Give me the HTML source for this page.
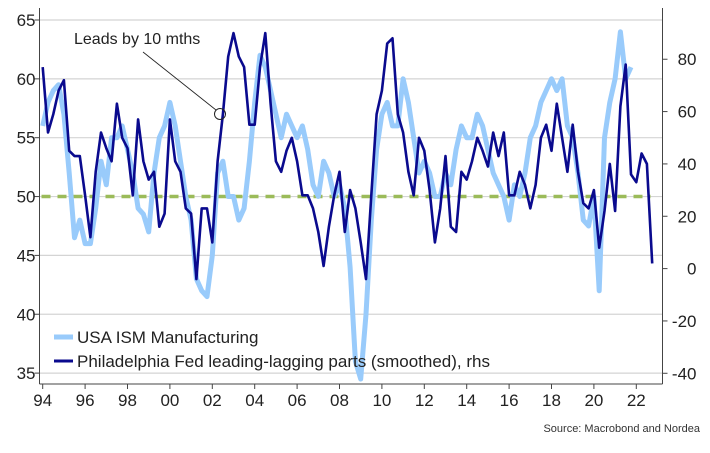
<!DOCTYPE html>
<html><head><meta charset="utf-8">
<style>
html,body{margin:0;padding:0;background:#fff;}
body{width:710px;height:448px;overflow:hidden;font-family:"Liberation Sans",sans-serif;}
</style></head>
<body>
<svg id="chart" width="710" height="448" xmlns="http://www.w3.org/2000/svg" font-family="Liberation Sans, sans-serif">
<g id="grid"></g>
<g id="series"></g>
<g id="axes"></g>
<g>
<text x="74" y="44" font-size="16" fill="#222">Leads by 10 mths</text>
<line x1="143" y1="52" x2="216" y2="110" stroke="#222" stroke-width="0.8"/>
<circle cx="220" cy="114" r="5.5" fill="none" stroke="#222" stroke-width="1"/>
</g>
<g>
<line x1="54" y1="337" x2="73" y2="337" stroke="#99cbfb" stroke-width="5"/>
<text x="77" y="343" font-size="17" fill="#222">USA ISM Manufacturing</text>
<line x1="54" y1="361" x2="73" y2="361" stroke="#0a0a8e" stroke-width="3"/>
<text x="77" y="367" font-size="17" fill="#222">Philadelphia Fed leading-lagging parts (smoothed), rhs</text>
</g>
<text x="700" y="432" font-size="11" fill="#333" text-anchor="end">Source: Macrobond and Nordea</text>
</svg>
<script>
const startYear = 1994;
const stepYears = 0.25;
const ismValues = [56,58,59,59.5, 57,52,46.5,48, 46,46,49,53, 51,55,55,56, 54,52,49,48.5, 47,52,55,56, 58,56,53,50, 48,43,42,41.5, 45,52,53,50, 50,48,49,53, 58,62,61,59, 57,55,57,56, 55,56,54,51, 50,53,52,50, 51,49,44,36, 34.5,40,48,54, 57,58,56,56, 60,58,55,52, 53,52,50,50, 52,51,54,56, 55,55,57,56, 54,52,51,50, 48,51,50,52, 55,56,58,59, 60,59,60,56, 55,52,48,47.5, 50,42,55,58, 60,64,60,61];
const phillyValues = [77,52,59,68, 72,45,43,43, 28,12,37,52, 46,41,63,50, 46,28,57,41, 34,37,16,21, 57,41,37,23, 21,-4,23,23, 10,41,59,81, 90,81,77,55, 55,77,90,63, 41,37,45,50, 41,28,28,23, 14,1,16,28, 37,14,30,23, 10,-4,28,59, 68,86,88,59, 52,37,28,50, 45,30,10,23, 43,16,14,37, 34,41,50,45, 39,52,43,52, 28,28,37,32, 23,32,50,55, 45,63,50,37, 55,37,25,23, 30,8,22,40, 22,62,78,36, 33,44,40,2];
const leftTicks = [35,40,45,50,55,60,65];
const rightTicks = [-40,-20,0,20,40,60,80];
const xTickYears = [1994,1996,1998,2000,2002,2004,2006,2008,2010,2012,2014,2016,2018,2020,2022];
const xTickLabels = ["94","96","98","00","02","04","06","08","10","12","14","16","18","20","22"];
const refLevel = 50;

const NS="http://www.w3.org/2000/svg";
const xS = yr => 42.7 + (yr-1994)*21.2;
const yL = v => 20 + (65-v)*11.77;
const yR = v => 268.6 - v*2.617;
function mk(tag, attrs, parent){const e=document.createElementNS(NS,tag);for(const k in attrs)e.setAttribute(k,attrs[k]);parent.appendChild(e);return e;}
const grid=document.getElementById('grid'), ser=document.getElementById('series'), ax=document.getElementById('axes');
const L=39.5, R=662.5, T=8, B=384;
leftTicks.forEach(v=>{
  const g=mk('line',{x1:L,x2:R,y1:yL(v),y2:yL(v),stroke:'#d4d4d4','stroke-width':1.2},grid);
  
  
  const tk=mk('line',{x1:L-5,x2:L,y1:yL(v),y2:yL(v),stroke:'#444'},ax);
  
  
  const t=mk('text',{x:L-4,y:yL(v)+6,'font-size':17,'text-anchor':'end',fill:'#222'},ax);t.textContent=v;
  
  
});
rightTicks.forEach(v=>{
  const tk=mk('line',{x1:R,x2:R+5,y1:yR(v),y2:yR(v),stroke:'#444'},ax);
  
  
  const t=mk('text',{x:R+34,y:yR(v)+6,'font-size':17,'text-anchor':'end',fill:'#222'},ax);t.textContent=v;
  
  
});
xTickYears.forEach((yr,i)=>{
  const tk=mk('line',{x1:xS(yr),x2:xS(yr),y1:B,y2:B+5,stroke:'#444'},ax);
  
  
  const t=mk('text',{x:xS(yr),y:B+22,'font-size':17,'text-anchor':'middle',fill:'#222'},ax);t.textContent=xTickLabels[i];
  
  
});
const la=mk('line',{x1:L,x2:L,y1:T,y2:B,stroke:'#444'},ax);


const ra=mk('line',{x1:R,x2:R,y1:T,y2:B,stroke:'#444'},ax);


const ba=mk('line',{x1:L,x2:R,y1:B,y2:B,stroke:'#444'},ax);


const ref=mk('line',{x1:L+2,x2:R-12,y1:yL(refLevel),y2:yL(refLevel),stroke:'#9bbb59','stroke-width':3.5,'stroke-dasharray':'9 7'},grid);


const ismPts=ismValues.map((v,i)=>xS(startYear+i*stepYears).toFixed(1)+','+yL(v).toFixed(1)).join(' ');
const ism=mk('polyline',{points:ismPts,fill:'none',stroke:'#99cbfb','stroke-width':5,'stroke-linejoin':'round'},ser);


const phPts=phillyValues.map((v,i)=>xS(startYear+i*stepYears).toFixed(1)+','+yR(v).toFixed(1)).join(' ');
const ph=mk('polyline',{points:phPts,fill:'none',stroke:'#0a0a8e','stroke-width':2.6,'stroke-linejoin':'round'},ser);


</script>
</body></html>
